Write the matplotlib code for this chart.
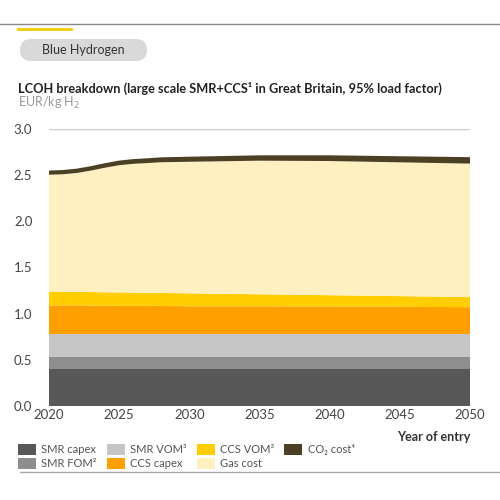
import matplotlib.pyplot as plt
from matplotlib.patches import FancyBboxPatch, Patch
from matplotlib.lines import Line2D

plt.rcParams['font.family'] = ['Lato', 'DejaVu Sans']

# LCOH components, EUR/kg H2
years = [2020, 2021, 2022, 2023, 2024, 2025, 2026, 2027, 2028, 2030, 2035, 2040, 2045, 2050]
smr_capex = [0.40] * 14
smr_fom = [0.13] * 14
smr_vom = [0.25] * 14
ccs_capex = [0.31, 0.31, 0.31, 0.308, 0.306, 0.305, 0.305, 0.305, 0.303, 0.30, 0.30, 0.295, 0.295, 0.29]
ccs_vom = [0.15, 0.148, 0.146, 0.146, 0.145, 0.145, 0.143, 0.141, 0.141, 0.14, 0.13, 0.125, 0.115, 0.11]
gas_cost = [1.265, 1.272, 1.288, 1.316, 1.35, 1.378, 1.395, 1.405, 1.416, 1.425, 1.447, 1.453, 1.449, 1.445]
co2_cost = [0.045, 0.046, 0.047, 0.048, 0.049, 0.05, 0.051, 0.052, 0.053, 0.055, 0.058, 0.062, 0.066, 0.07]

labels = ['SMR capex', 'SMR FOM²', 'SMR VOM³', 'CCS capex', 'CCS VOM³', 'Gas cost', 'CO₂ cost⁴']
colors = ['#585858', '#8e8e8e', '#c6c6c6', '#ff9f00', '#ffcd00', '#fff0c2', '#4b4024']

fig = plt.figure(figsize=(5, 5), dpi=100)
ax = fig.add_axes([0.098, 0.188, 0.842, 0.554])

ax.stackplot(years, smr_capex, smr_fom, smr_vom, ccs_capex, ccs_vom, gas_cost, co2_cost,
             colors=colors, linewidth=0, zorder=2)

ax.set_xlim(2020, 2050)
ax.set_ylim(0, 3.0)
ax.set_xticks(range(2020, 2051, 5))
ax.set_yticks([0.0, 0.5, 1.0, 1.5, 2.0, 2.5, 3.0])
ax.set_yticklabels(['0.0', '0.5', '1.0', '1.5', '2.0', '2.5', '3.0'])
ax.grid(axis='y', color='#cccccc', linewidth=1, zorder=0)
ax.set_axisbelow(True)
for s in ax.spines.values():
    s.set_visible(False)
ax.tick_params(length=0, labelsize=9.5, colors='#444444')
ax.tick_params(axis='x', pad=2)
ax.tick_params(axis='y', pad=12)

# header decoration
fig.add_artist(Line2D([0, 1], [0.952, 0.952], color='#888888', linewidth=1))
fig.add_artist(Line2D([0.036, 0.142], [0.942, 0.942], color='#f2cc00', linewidth=2))
pill = FancyBboxPatch((0.04, 0.878), 0.254, 0.044, boxstyle='round,pad=0,rounding_size=0.022',
                      transform=fig.transFigure, facecolor='#d9d9d9', edgecolor='none')
fig.add_artist(pill)
fig.text(0.167, 0.899, 'Blue Hydrogen', ha='center', va='center', fontsize=9, color='#333333')

fig.text(0.036, 0.824, 'LCOH breakdown (large scale SMR+CCS¹ in Great Britain, 95% load factor)',
         fontsize=9.2, fontweight='bold', color='#222222', va='center')
fig.text(0.036, 0.794, 'EUR/kg H$_2$', fontsize=9, color='#999999', va='center')

fig.text(0.94, 0.126, 'Year of entry', ha='right', va='center', fontsize=9,
         fontweight='bold', color='#333333')

handles = [Patch(facecolor=c, edgecolor='none') for c in colors]
fig.legend(handles, labels, ncol=4, loc='upper left', bbox_to_anchor=(0.036, 0.112),
           frameon=False, fontsize=8, labelcolor='#555555', handlelength=1.6,
           handleheight=1.1, handletextpad=0.5, columnspacing=0.9, labelspacing=0.25,
           borderaxespad=0, borderpad=0)

fig.add_artist(Line2D([0.04, 1], [0.056, 0.056], color='#aaaaaa', linewidth=1))

plt.savefig('out.png', dpi=100)
